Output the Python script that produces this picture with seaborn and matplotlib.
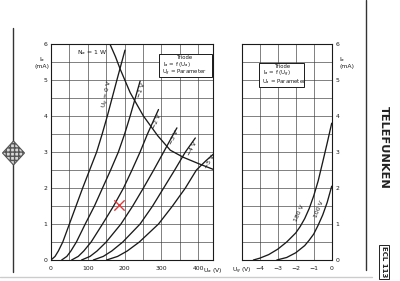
import numpy as np
import pandas as pd
import matplotlib
matplotlib.use("Agg")
import matplotlib.pyplot as plt
import seaborn as sns
from matplotlib.patches import Rectangle, Polygon

# ---------------- data ----------------
# Left chart: Ia = f(Ua), parameter Ug
ua_0 = [0, 11, 20, 32, 50, 68, 86, 105, 124, 139, 153, 166, 179, 201]
ia_0 = [0, 0.1, 0.25, 0.5, 1, 1.5, 2, 2.5, 3, 3.5, 4, 4.5, 5, 5.83]
ua_m1 = [29, 43, 54, 69, 93, 118, 140, 162, 183, 200, 215, 229, 242]
ia_m1 = [0, 0.1, 0.25, 0.5, 1, 1.5, 2, 2.5, 3, 3.5, 4, 4.5, 4.97]
ua_m2 = [56, 74, 89, 109, 140, 170, 197, 220, 242, 262, 284, 292]
ia_m2 = [0, 0.1, 0.25, 0.5, 1, 1.5, 2, 2.5, 3, 3.5, 4, 4.18]
ua_m3 = [83, 106, 125, 150, 190, 222, 251, 279, 306, 330, 342]
ia_m3 = [0, 0.1, 0.25, 0.5, 1, 1.5, 2, 2.5, 3, 3.45, 3.67]
ua_m4 = [115, 142, 165, 195, 242, 276, 306, 336, 365, 392]
ia_m4 = [0, 0.1, 0.25, 0.5, 1, 1.5, 2, 2.5, 3, 3.39]
ua_m5 = [151, 181, 207, 240, 292, 330, 365, 395, 420, 442]
ia_m5 = [0, 0.1, 0.25, 0.5, 1, 1.5, 2, 2.5, 2.75, 2.95]
# anode dissipation limit Na = 1 W
ua_na = [160, 175, 188, 215, 251, 290, 324, 360, 400, 440]
ia_na = [6.0, 5.65, 5.3, 4.65, 4.0, 3.45, 3.05, 2.85, 2.68, 2.52]
# operating point marker
op_ua = [186]
op_ia = [1.52]

# Right chart: Ia = f(Ug), parameter Ua
ug_180 = [-4.35, -4.0, -3.5, -3.0, -2.5, -2.0, -1.75, -1.5, -1.25, -1.0, -0.75, -0.5, -0.25, 0.0]
ia_180 = [0, 0.05, 0.15, 0.3, 0.5, 0.75, 0.93, 1.15, 1.43, 1.78, 2.2, 2.72, 3.25, 3.8]
ug_100 = [-3.05, -2.5, -2.0, -1.5, -1.25, -1.0, -0.75, -0.5, -0.25, 0.0]
ia_100 = [0, 0.07, 0.2, 0.4, 0.55, 0.72, 0.97, 1.25, 1.6, 2.05]

left_xticks = [0, 100, 200, 300, 400]
left_xtick_labels = ["0", "100", "200", "300", "400"]
yticks = [0, 1, 2, 3, 4, 5, 6]
right_xticks = [-5, -4, -3, -2, -1, 0]
right_xtick_labels = ["U$_g$ (V)", "\u22124", "\u22123", "\u22122", "\u22121", "0"]

# ---------------- figure ----------------
sns.set_style("white")
plt.rcParams["font.family"] = ["DejaVu Sans"]
plt.rcParams["mathtext.fontset"] = "dejavusans"

fig = plt.figure(figsize=(4.0, 2.81), dpi=100)
W, H = 400.0, 281.0

def rect(x0, y0, x1, y1):
    return [x0 / W, 1 - y1 / H, (x1 - x0) / W, (y1 - y0) / H]

axL = fig.add_axes(rect(51, 44, 213, 260))
axR = fig.add_axes(rect(241.7, 44, 331.7, 260))

# overlay (pixel coordinates) for page decorations and boxes
bg = fig.add_axes([0, 0, 1, 1])
bg.set_xlim(0, W)
bg.set_ylim(H, 0)
bg.axis("off")
bg.set_zorder(5)
bg.patch.set_visible(False)

ink = "#1a1a1a"
grid_c = "#3a3a3a"

# long-form data for seaborn
left_curves = {"0": (ua_0, ia_0), "-1": (ua_m1, ia_m1), "-2": (ua_m2, ia_m2),
               "-3": (ua_m3, ia_m3), "-4": (ua_m4, ia_m4), "-5": (ua_m5, ia_m5),
               "Na": (ua_na, ia_na)}
dfL = pd.concat([pd.DataFrame({"Ua": x, "Ia": y, "curve": k}) for k, (x, y) in left_curves.items()])
sns.lineplot(data=dfL, x="Ua", y="Ia", units="curve", estimator=None, sort=False,
             color=ink, lw=0.95, ax=axL, legend=False)
sns.scatterplot(x=op_ua, y=op_ia, marker="x", color="#e03a3a", s=55, linewidth=1.0,
                ax=axL, legend=False, zorder=5)

right_curves = {"180": (ug_180, ia_180), "100": (ug_100, ia_100)}
dfR = pd.concat([pd.DataFrame({"Ug": x, "Ia": y, "curve": k}) for k, (x, y) in right_curves.items()])
sns.lineplot(data=dfR, x="Ug", y="Ia", units="curve", estimator=None, sort=False,
             color=ink, lw=0.95, ax=axR, legend=False)

fs = 4.4
for ax in (axL, axR):
    ax.set_ylim(0, 6)
    ax.set_yticks(yticks)
    ax.set_yticks(np.arange(0, 6.01, 0.5), minor=True)
    ax.grid(True, which="both", color=grid_c, lw=0.45)
    ax.set_axisbelow(True)
    ax.tick_params(which="both", length=0, labelsize=fs, colors=ink)
    ax.set_xlabel("")
    ax.set_ylabel("")
    for s in ax.spines.values():
        s.set_visible(True)
        s.set_color(ink)
        s.set_linewidth(0.8)

axL.set_xlim(0, 440)
axL.set_xticks(left_xticks)
axL.set_xticklabels(left_xtick_labels)
axL.set_xticks(np.arange(0, 441, 50), minor=True)
axL.tick_params(axis="y", pad=2.4)
axL.tick_params(axis="x", pad=4.2)

axR.set_xlim(-5, 0)
axR.set_xticks(right_xticks)
axR.set_xticklabels(right_xtick_labels)
axR.yaxis.tick_right()
axR.tick_params(axis="y", pad=2.8, labelright=True, labelleft=False)
axR.tick_params(axis="x", pad=4.2)

# axis unit labels
bg.text(42, 62, "I$_a$\n(mA)", fontsize=fs, ha="center", va="center", color=ink, linespacing=0.9)
bg.text(339, 62, "I$_a$\n(mA)", fontsize=fs, ha="left", va="center", color=ink, linespacing=0.9)
axL.text(413, -0.3, "U$_a$ (V)", fontsize=fs, ha="left", va="center", color=ink, clip_on=False)

# curve labels (left)
axL.text(152, 5.75, "N$_a$ = 1 W", fontsize=fs, ha="right", va="center", color=ink)
axL.text(155, 4.6, "U$_g$ = 0 V", fontsize=fs, ha="center", va="center", rotation=78, color=ink)
for txt, xx, yy, rot in [("\u22121 V", 246, 4.7, 70), ("\u22122 V", 286, 3.85, 66),
                         ("\u22123 V", 334, 3.4, 64), ("\u22124 V", 384, 3.1, 62),
                         ("\u22125 V", 432, 2.72, 58)]:
    axL.text(xx, yy, txt, fontsize=fs, ha="center", va="center", rotation=rot, color=ink)

# curve labels (right)
axR.text(-1.82, 1.3, "180 V", fontsize=fs, ha="center", va="center", rotation=66, color=ink)
axR.text(-0.72, 1.42, "100 V", fontsize=fs, ha="center", va="center", rotation=68, color=ink)

# parameter boxes
bfs = 3.9
bg.add_patch(Rectangle((159, 54), 53, 23, fill=True, facecolor="white", edgecolor=ink, lw=0.7, zorder=3))
bg.text(184, 57.3, "Triode", fontsize=bfs, ha="center", va="center", color=ink, zorder=4)
bg.text(163, 64.2, "I$_a$ = f (U$_a$)", fontsize=bfs, ha="left", va="center", color=ink, zorder=4)
bg.text(162, 72.6, "U$_g$ = Parameter", fontsize=bfs, ha="left", va="center", color=ink, zorder=4)

bg.add_patch(Rectangle((259, 62.7), 45, 24.6, fill=True, facecolor="white", edgecolor=ink, lw=0.7, zorder=3))
bg.text(282, 66.6, "Triode", fontsize=bfs, ha="center", va="center", color=ink, zorder=4)
bg.text(263, 73.6, "I$_a$ = f (U$_g$)", fontsize=bfs, ha="left", va="center", color=ink, zorder=4)
bg.text(262, 81.8, "U$_a$ = Parameter", fontsize=bfs, ha="left", va="center", color=ink, zorder=4)

# page decorations
bg.plot([12.5, 12.5], [28, 272], color="#333333", lw=1.0)
bg.plot([366, 366], [0, 270], color="#333333", lw=1.0)
bg.plot([0, 372], [277, 277], color="#cccccc", lw=1.0)
bg.add_patch(Polygon([(13.5, 141), (24.5, 153), (13.5, 165), (2.5, 153)], closed=True,
                     facecolor="#d8d8d8", edgecolor="#555555", lw=0.8, hatch="++++", zorder=3))
bg.text(384, 147, "TELEFUNKEN", fontsize=8.2, fontweight="bold", rotation=-90,
        ha="center", va="center", color="#222222")
bg.text(384, 262, "ECL 113", fontsize=5.0, fontweight="bold", rotation=-90,
        ha="center", va="center", color="#222222",
        bbox=dict(boxstyle="square,pad=0.25", facecolor="white", edgecolor="#222222", lw=0.7))

fig.savefig("out.png", dpi=100)
